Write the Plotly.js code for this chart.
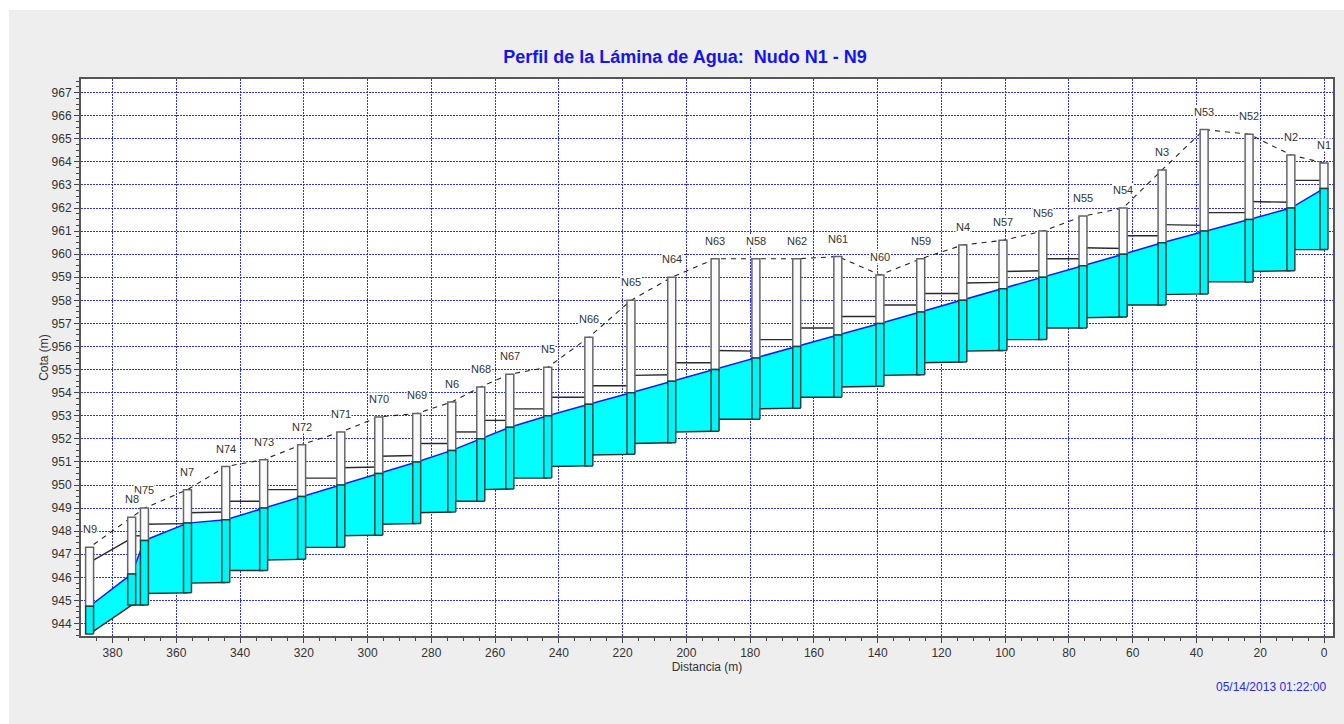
<!DOCTYPE html>
<html><head><meta charset="utf-8">
<script src="https://cdn.plot.ly/plotly-3.0.1.min.js"></script>
<style>html,body{margin:0;padding:0;background:#fff;width:1344px;height:724px;overflow:hidden}
#chart{position:absolute;left:9px;top:10px;width:1335px;height:714px}</style>
</head><body><div id="chart"></div>
<script>
// Nodes ordered from N1 (distance 0) to N9
const nodeNames = ["N1","N2","N52","N53","N3","N54","N55","N56","N57","N4","N59","N60","N61","N62","N58","N63","N64","N65","N66","N5","N67","N68","N6","N69","N70","N71","N72","N73","N74","N7","N75","N8","N9"];
const nodeDist  = [0,10.4,23.5,37.6,50.8,63,75.6,88.2,100.7,113.3,126.5,139.3,152.5,165.4,178.2,191,204.6,217.4,230.6,243.5,255.4,264.5,273.6,284.6,296.5,308.4,320.7,332.6,344.5,356.5,370,374,387.2];
const nodeRim   = [963.95,964.3,965.2,965.4,963.65,962,961.65,961,960.6,960.4,959.8,959.1,959.9,959.8,959.8,959.8,959,958,956.4,955.1,954.8,954.25,953.6,953.1,952.95,952.3,951.75,951.1,950.8,949.8,949,948.6,947.3];
const waterLevel= [962.85,962,961.5,961,960.5,960,959.5,959,958.5,958,957.5,957,956.5,956,955.5,955,954.5,954,953.5,953,952.5,952,951.5,951,950.5,950,949.5,949,948.5,948.35,947.6,946.15,944.75];
// Pipes: i joins node i with node i+1
const invertStart = [960.2,959.28,958.8,958.28,957.8,957.28,956.8,956.3,955.83,955.33,954.78,954.28,953.8,953.33,952.85,952.33,951.83,951.33,950.83,950.3,949.83,949.3,948.83,948.33,947.83,947.3,946.78,946.3,945.78,945.33,944.8,944.8];
const invertEnd   = [960.2,959.25,958.8,958.25,957.8,957.25,956.8,956.3,955.8,955.3,954.75,954.25,953.8,953.3,952.85,952.3,951.8,951.3,950.8,950.3,949.8,949.3,948.8,948.3,947.8,947.3,946.75,946.3,945.75,945.3,944.8,943.55];
const crownStart  = [963.2,962.25,961.8,961.25,960.8,960.25,959.8,959.28,958.78,958.3,957.8,957.3,956.8,956.3,955.8,955.3,954.78,954.3,953.8,953.3,952.8,952.3,951.8,951.28,950.78,950.3,949.8,949.3,948.83,948.33,947.8,947.7];
const crownEnd    = [963.2,962.28,961.8,961.28,960.8,960.28,959.8,959.25,958.75,958.3,957.8,957.3,956.8,956.3,955.83,955.3,954.75,954.3,953.8,953.3,952.8,952.3,951.8,951.25,950.75,950.3,949.8,949.3,948.8,948.3,947.8,946.65];
// X half-width of a manhole box, metres
const boxHalf = 1.25;

const n = nodeNames.length;
const boxBottom = nodeNames.map((_, i) => Math.min(
  i < n - 1 ? invertStart[i] : Infinity,
  i > 0 ? invertEnd[i - 1] : Infinity));

// water polygon
const polyX = [...nodeDist], polyY = [...waterLevel];
for (let i = n - 2; i >= 0; i--) {
  polyX.push(nodeDist[i + 1], nodeDist[i]);
  polyY.push(invertEnd[i], invertStart[i]);
}
// pipes: crown and invert segments
const segX = [], segY = [];
for (let i = 0; i < n - 1; i++) {
  segX.push(nodeDist[i], nodeDist[i + 1], null, nodeDist[i], nodeDist[i + 1], null);
  segY.push(crownStart[i], crownEnd[i], null, invertStart[i], invertEnd[i], null);
}
// boxes
function boxes(bottom, top) {
  const X = [], Y = [];
  for (let i = 0; i < n; i++) {
    const a = nodeDist[i] - boxHalf, b = nodeDist[i] + boxHalf;
    X.push(a, b, b, a, a, null);
    Y.push(bottom[i], bottom[i], top[i], top[i], bottom[i], null);
  }
  return {x: X, y: Y};
}
const upper = boxes(waterLevel, nodeRim);
const lower = boxes(boxBottom, waterLevel);

const common = {type: "scatter", mode: "lines", hoverinfo: "skip", showlegend: false, cliponaxis: true};
const traces = [
  {...common, name: "Terreno", x: nodeDist, y: nodeRim, line: {color: "#222", width: 1.1, dash: "5px,5px"}},
  {...common, name: "Agua", x: polyX, y: polyY, fill: "toself", fillcolor: "#00ffff", line: {width: 0}},
  {...common, name: "Lamina", x: nodeDist, y: waterLevel, line: {color: "#1a1aff", width: 1.5}},
  {...common, name: "Tuberia", x: segX, y: segY, connectgaps: false, line: {color: "#2a2a2a", width: 1.4}},
  {...common, name: "Pozo", x: upper.x, y: upper.y, fill: "toself", fillcolor: "#fafafa", line: {color: "#666", width: 1.5}},
  {...common, name: "PozoAgua", x: lower.x, y: lower.y, fill: "toself", fillcolor: "#00f4f4", line: {color: "#1c4444", width: 1.5}}
];

const annotations = nodeNames.map((t, i) => ({
  x: nodeDist[i], y: nodeRim[i], xref: "x", yref: "y", text: t, showarrow: false,
  yshift: 18, xanchor: "center", yanchor: "middle", bgcolor: "#ffffff", borderpad: 0,
  font: {family: "Liberation Sans, Arial, sans-serif", size: 11, color: "#333"}
}));
annotations.push({
  xref: "paper", yref: "paper", x: 1.0, y: 0, xshift: -5, yshift: -51, xanchor: "right", yanchor: "middle",
  text: "05/14/2013 01:22:00", showarrow: false,
  font: {family: "Liberation Sans, Arial, sans-serif", size: 12, color: "#2a2aee"}
});

const gridCol = "#2f2ff0";
const axisBase = {
  showline: true, linecolor: "#555", linewidth: 2, mirror: true, ticks: "outside", ticklen: 5, tickwidth: 1,
  tickcolor: "#444", showgrid: true, gridcolor: gridCol, gridwidth: 1, griddash: "2px,1px", zeroline: false,
  tickfont: {family: "Liberation Sans, Arial, sans-serif", size: 12, color: "#333"}
};
const layout = {
  width: 1335, height: 714, paper_bgcolor: "#eeeeee", plot_bgcolor: "#ffffff",
  margin: {l: 72, r: 11, t: 69, b: 88, pad: 0},
  title: {
    text: "Perfil de la Lámina de Agua:\u00a0\u00a0Nudo N1 - N9", x: 676 / 1335, xanchor: "center", xref: "container",
    y: 1 - 47 / 714, yanchor: "middle", yref: "container",
    font: {family: "Liberation Sans, Arial, sans-serif", size: 18, color: "#1414f0", weight: "bold"}
  },
  xaxis: {...axisBase, range: [389.9, -2.82], tick0: 0, dtick: 20, tickangle: 0,
    minor: {dtick: 5, tick0: 0, ticks: "outside", ticklen: 3, tickcolor: "#444", showgrid: false},
    title: {text: "Distancia (m)", standoff: 1, font: {family: "Liberation Sans, Arial, sans-serif", size: 12, color: "#333"}}},
  yaxis: {...axisBase, range: [943.46, 967.59], tick0: 944, dtick: 1,
    minor: {dtick: 0.25, tick0: 944, ticks: "outside", ticklen: 3, tickcolor: "#444", showgrid: false},
    title: {text: "Cota (m)", standoff: 0, font: {family: "Liberation Sans, Arial, sans-serif", size: 12, color: "#333"}}},
  annotations
};
Plotly.newPlot("chart", traces, layout, {displayModeBar: false, staticPlot: true});
</script>
</body></html>
